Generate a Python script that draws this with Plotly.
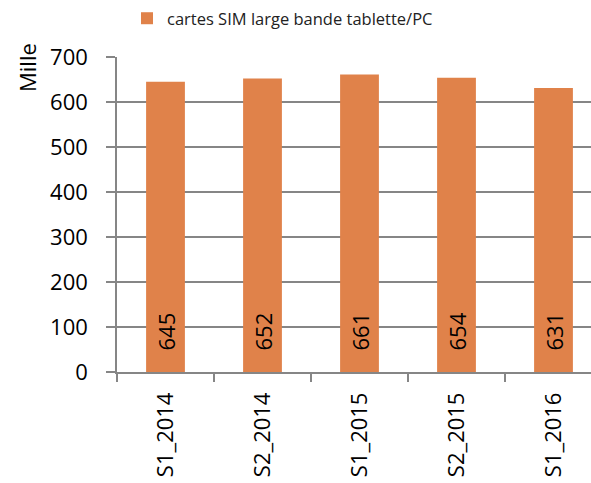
import plotly.graph_objects as go

# Semester categories and tablet/PC broadband SIM cards (thousands)
periods = ["S1_2014", "S2_2014", "S1_2015", "S2_2015", "S1_2016"]
sim_cards = [645, 652, 661, 654, 631]
series_name = "cartes SIM large bande tablette/PC"
y_ticks = [0, 100, 200, 300, 400, 500, 600, 700]

W, H = 591, 483
L, R, T, B = 117, 0, 57, 111
plot_w = W - L - R
plot_h = H - T - B

FONT = "Open Sans"
AXIS = "#868686"
BAR = "#E0824A"
SIZE = 22

fig = go.Figure(
    go.Bar(
        x=periods,
        y=sim_cards,
        name=series_name,
        marker=dict(color=BAR, line=dict(width=0)),
        width=0.4,
        showlegend=True,
    )
)

# Value labels, rotated and sitting a little above the base of each bar
for p, v in zip(periods, sim_cards):
    fig.add_annotation(
        x=p,
        y=0,
        text=str(v),
        textangle=-90,
        xanchor="center",
        yanchor="bottom",
        yshift=19,
        showarrow=False,
        font=dict(family=FONT, size=SIZE, color="black"),
    )

fig.update_layout(
    width=W,
    height=H,
    margin=dict(l=L, r=R, t=T, b=B, pad=0),
    paper_bgcolor="white",
    plot_bgcolor="white",
    font=dict(family=FONT, size=SIZE, color="black"),
    showlegend=True,
    legend=dict(
        orientation="h",
        x=(127 - L) / plot_w,
        xanchor="left",
        y=1 + (T - 1) / plot_h,
        yanchor="top",
        font=dict(family=FONT, size=16.5, color="#222222"),
        bgcolor="rgba(0,0,0,0)",
        borderwidth=0,
    ),
)

fig.update_xaxes(
    type="category",
    range=[-0.5, -0.5 + plot_w / 97.0],
    showline=True,
    linecolor=AXIS,
    linewidth=1.5,
    ticks="outside",
    tickson="boundaries",
    ticklen=8,
    tickcolor=AXIS,
    tickwidth=1.5,
    tickangle=-90,
    ticklabelstandoff=10,
    tickfont=dict(family=FONT, size=SIZE, color="black"),
    showgrid=False,
    fixedrange=True,
)

fig.update_yaxes(
    range=[0, 700],
    tickvals=y_ticks,
    ticktext=[str(v) for v in y_ticks],
    showline=True,
    linecolor=AXIS,
    linewidth=1.5,
    ticks="outside",
    ticklen=9,
    tickcolor=AXIS,
    tickwidth=1.5,
    ticklabelstandoff=14,
    tickfont=dict(family=FONT, size=SIZE, color="black"),
    showgrid=True,
    gridcolor=AXIS,
    gridwidth=1.5,
    zeroline=False,
    fixedrange=True,
)

# Unit label placed near the top of the value axis
fig.add_annotation(
    text="Mille",
    textangle=-90,
    xref="paper",
    yref="paper",
    x=(27 - L) / plot_w,
    y=(H - B - 68) / plot_h,
    xanchor="center",
    yanchor="middle",
    showarrow=False,
    font=dict(family=FONT, size=SIZE, color="black"),
)

fig.write_html("out.html")
